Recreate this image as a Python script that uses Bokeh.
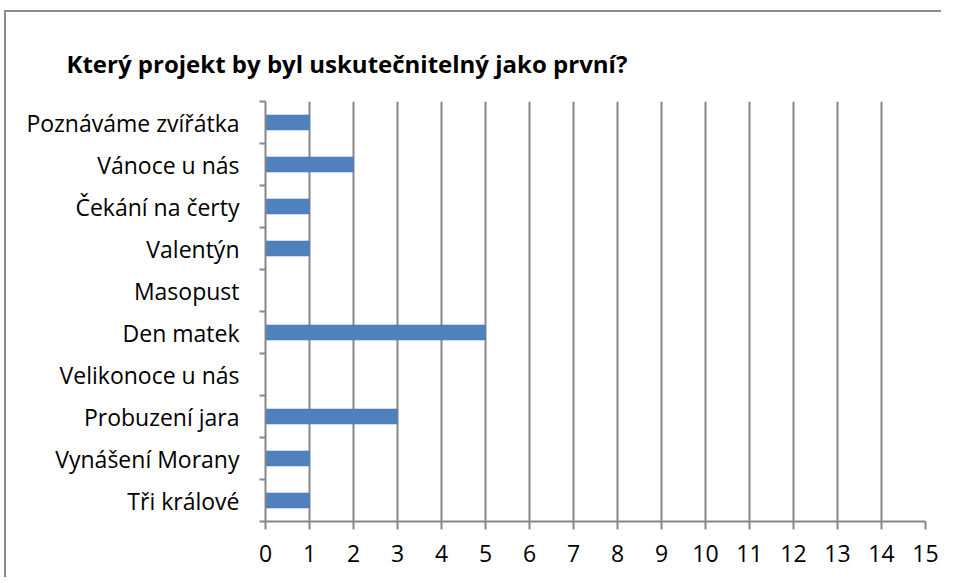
from bokeh.plotting import figure
from bokeh.models import FixedTicker, Range1d, Title, ColumnDataSource
from bokeh.layouts import column
from bokeh.embed import file_html
from bokeh.resources import INLINE

categories = ["Poznáváme zvířátka", "Vánoce u nás", "Čekání na čerty", "Valentýn",
              "Masopust", "Den matek", "Velikonoce u nás", "Probuzení jara",
              "Vynášení Morany", "Tři králové"]
values = [1, 2, 1, 1, 0, 5, 0, 3, 1, 1]
x_ticks = list(range(0, 16))
title_text = "Který projekt by byl uskutečnitelný jako první?"

FONT = "Open Sans"
GRAY = "#878787"

n = len(categories)
# bottom-to-top positions
pos = [n - 1 - i for i in range(n)]
src = ColumnDataSource(dict(y=pos, v=values, name=categories))

p = figure(frame_width=660, frame_height=420,
           min_border_left=259, min_border_right=16,
           min_border_top=89, min_border_bottom=56,
           x_range=Range1d(0, 15), y_range=Range1d(-0.5, n - 0.5),
           output_backend="svg", toolbar_location=None)

p.hbar(y="y", right="v", left=0, height=0.36, source=src,
       fill_color="#4F81BD", line_color="#4A7DBA", line_width=0.5)

# x axis
p.xaxis.ticker = FixedTicker(ticks=x_ticks)
p.xaxis.axis_line_color = GRAY
p.xaxis.axis_line_width = 2
p.xaxis.major_tick_line_color = GRAY
p.xaxis.major_tick_line_width = 2
p.xaxis.major_tick_out = 8
p.xaxis.major_tick_in = 0
p.xaxis.minor_tick_line_color = None
p.xaxis.major_label_text_font = FONT
p.xaxis.major_label_text_font_size = "23px"
p.xaxis.major_label_text_color = "#000000"
p.xaxis.major_label_standoff = 15

# y axis: labels at centers, ticks at boundaries
p.yaxis.ticker = FixedTicker(ticks=list(range(n)), minor_ticks=[k - 0.5 for k in range(n + 1)])
p.yaxis.major_label_overrides = {pos[i]: categories[i] for i in range(n)}
p.yaxis.axis_line_color = GRAY
p.yaxis.axis_line_width = 2
p.yaxis.major_tick_line_color = None
p.yaxis.minor_tick_line_color = GRAY
p.yaxis.minor_tick_line_width = 2
p.yaxis.minor_tick_out = 6
p.yaxis.minor_tick_in = 0
p.yaxis.major_label_text_font = FONT
p.yaxis.major_label_text_font_size = "23px"
p.yaxis.major_label_text_color = "#000000"
p.yaxis.major_label_standoff = 20

p.xgrid.grid_line_color = GRAY
p.xgrid.grid_line_width = 2
p.ygrid.grid_line_color = None
p.outline_line_color = None

t = Title(text=title_text, align="left", offset=-199, standoff=40,
          vertical_align="top",
          text_font=FONT, text_font_size="24px", text_font_style="bold",
          text_color="#000000")
p.add_layout(t, "above")

layout = column(p, styles={"border-left": "2px solid #8c8c8c",
                           "border-top": "2px solid #8c8c8c",
                           "margin-left": "4px", "margin-top": "10px"})

open("out.html", "w").write(file_html(layout, INLINE))
